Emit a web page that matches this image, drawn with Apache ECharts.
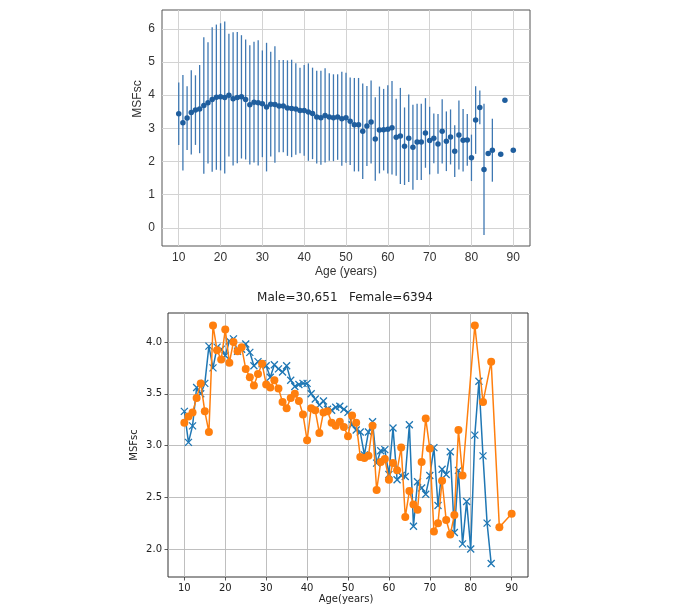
<!DOCTYPE html>
<html><head><meta charset="utf-8">
<script src="https://cdn.jsdelivr.net/npm/echarts@6/dist/echarts.min.js"></script>
<style>html,body{margin:0;padding:0;background:#fff}#c{width:680px;height:615px}</style>
</head><body><div id="c"></div>
<script>
// ---------- Top panel: mean ± SD by age ----------
const topAges = [10,11,12,13,14,15,16,17,18,19,20,21,22,23,24,25,26,27,28,29,30,31,32,33,34,35,36,37,38,39,40,41,42,43,44,45,46,47,48,49,50,51,52,53,54,55,56,57,58,59,60,61,62,63,64,65,66,67,68,69,70,71,72,73,74,75,76,77,78,79,80,81,82,83,84,85,87,88,90];
const topMeans = [3.44,3.17,3.31,3.48,3.55,3.58,3.69,3.77,3.87,3.94,3.95,3.93,4.00,3.89,3.93,3.95,3.87,3.71,3.79,3.77,3.74,3.64,3.73,3.72,3.67,3.67,3.61,3.60,3.58,3.54,3.54,3.49,3.45,3.34,3.32,3.39,3.34,3.32,3.34,3.29,3.32,3.21,3.11,3.11,2.91,3.07,3.19,2.68,2.95,2.96,2.97,3.02,2.73,2.77,2.46,2.70,2.43,2.59,2.59,2.86,2.63,2.70,2.53,2.91,2.61,2.74,2.31,2.80,2.64,2.65,2.11,3.25,3.63,1.76,2.24,2.34,2.22,3.85,2.34];
const topSDs = [0.94,1.44,0.96,1.27,1.05,1.33,2.06,1.83,2.18,2.19,2.22,2.29,1.85,2.01,1.98,1.86,1.81,1.80,1.82,1.89,1.61,1.94,1.58,1.76,1.39,1.39,1.44,1.47,1.38,1.29,1.37,1.47,1.38,1.40,1.42,1.42,1.32,1.31,1.29,1.42,1.36,1.32,1.41,1.41,1.44,1.21,1.25,1.26,1.31,1.23,1.33,1.41,1.16,1.45,1.17,1.32,1.28,1.15,1.15,1.05,1.02,0.75,0.90,0.97,0.90,0.83,0.78,1.04,0.94,0.78,0.70,1.02,0.51,1.98,0,0.95,0,0,0];
const topXTicks = [10,20,30,40,50,60,70,80,90];
const topYTicks = [0,1,2,3,4,5,6];

// ---------- Bottom panel: Male vs Female ----------
const maleAges = [10,11,12,13,14,15,16,17,18,19,20,21,22,23,24,25,26,27,28,29,30,31,32,33,34,35,36,37,38,39,40,41,42,43,44,45,46,47,48,49,50,51,52,53,54,55,56,57,58,59,60,61,62,63,64,65,66,67,68,69,70,71,72,73,74,75,76,77,78,79,80,81,82,83,84,85];
const maleVals = [3.33,3.03,3.19,3.56,3.50,3.60,3.96,3.75,3.95,3.93,3.87,4.01,4.03,3.91,3.93,3.98,3.90,3.77,3.81,3.79,3.77,3.66,3.78,3.74,3.71,3.77,3.63,3.57,3.59,3.60,3.60,3.50,3.45,3.39,3.43,3.35,3.34,3.37,3.38,3.35,3.32,3.20,3.15,3.13,2.91,3.13,3.23,2.83,2.95,2.96,2.72,3.17,2.67,2.71,2.70,3.20,2.22,2.65,2.59,2.53,2.71,2.98,2.42,2.77,2.72,2.94,2.16,2.76,2.05,2.46,2.00,3.10,3.62,2.90,2.25,1.86];
const femaleAges = [10,11,12,13,14,15,16,17,18,19,20,21,22,23,24,25,26,27,28,29,30,31,32,33,34,35,36,37,38,39,40,41,42,43,44,45,46,47,48,49,50,51,52,53,54,55,56,57,58,59,60,61,62,63,64,65,66,67,68,69,70,71,72,73,74,75,76,77,78,81,83,85,87,90];
const femaleVals = [3.22,3.28,3.32,3.46,3.60,3.33,3.13,4.16,3.92,3.83,4.12,3.80,4.00,3.91,3.95,3.74,3.66,3.58,3.69,3.79,3.59,3.56,3.63,3.55,3.42,3.36,3.46,3.50,3.43,3.30,3.05,3.36,3.34,3.12,3.32,3.33,3.22,3.19,3.23,3.18,3.09,3.29,3.22,2.89,2.88,2.90,3.19,2.57,2.84,2.87,2.67,2.83,2.76,2.98,2.31,2.56,2.43,2.38,2.84,3.26,2.97,2.17,2.25,2.66,2.28,2.14,2.33,3.15,2.71,4.16,3.42,3.81,2.21,2.34];
const botXTicks = [10,20,30,40,50,60,70,80,90];
const botYTicks = [2.0,2.5,3.0,3.5,4.0];
const titleText = 'Male=30,651   Female=6394';

const chart = echarts.init(document.getElementById('c'), null, {renderer:'canvas'});
const topFont = 'Liberation Sans, Arial, sans-serif';
const botFont = 'DejaVu Sans, sans-serif';

const option = {
  animation: false,
  backgroundColor: '#fff',
  grid: [
    {left:162, top:10, width:368, height:236, show:true, borderColor:'#555', borderWidth:1, backgroundColor:'transparent'},
    {left:168, top:313, width:360, height:264, show:true, borderColor:'#333', borderWidth:1, backgroundColor:'transparent'}
  ],
  xAxis: [
    {type:'value', gridIndex:0, min:6, max:94,
     axisLine:{show:false},
     axisTick:{show:false, customValues: topXTicks},
     axisLabel:{customValues: topXTicks, fontFamily: topFont, fontSize:12, color:'#333', margin:6},
     splitLine:{show:true, lineStyle:{color:'#d3d3d3', width:1}}},
    {type:'value', gridIndex:1, min:6, max:94,
     axisLine:{show:false},
     axisTick:{show:true, inside:false, length:3.5, customValues: botXTicks, lineStyle:{color:'#333', width:0.8}},
     axisLabel:{customValues: botXTicks, fontFamily: botFont, fontSize:10, color:'#222', margin:6},
     splitLine:{show:true, lineStyle:{color:'#b8b8b8', width:0.9}}}
  ],
  yAxis: [
    {type:'value', gridIndex:0, min:-0.55, max:6.57,
     axisLine:{show:false},
     axisTick:{show:false, customValues: topYTicks},
     axisLabel:{customValues: topYTicks, fontFamily: topFont, fontSize:12, color:'#333', margin:7},
     splitLine:{show:true, lineStyle:{color:'#d3d3d3', width:1}}},
    {type:'value', gridIndex:1, min:1.73, max:4.28,
     axisLine:{show:false},
     axisTick:{show:true, inside:false, length:3.5, customValues: botYTicks, lineStyle:{color:'#333', width:0.8}},
     axisLabel:{customValues: botYTicks, fontFamily: botFont, fontSize:10, color:'#222', margin:6,
                formatter: v => Number(v).toFixed(1)},
     splitLine:{show:true, lineStyle:{color:'#b8b8b8', width:0.9}}}
  ],
  graphic: [
    {type:'text', x:138, y:99, rotation:Math.PI/2,
     style:{text:'MSFsc', font:'12px '+topFont, fill:'#333', textAlign:'center', textVerticalAlign:'middle'}},
    {type:'text', x:346, y:272,
     style:{text:'Age (years)', font:'12px '+topFont, fill:'#333', textAlign:'center', textVerticalAlign:'middle'}},
    {type:'text', x:345, y:298,
     style:{text:titleText, font:'12px '+botFont, fill:'#222', textAlign:'center', textVerticalAlign:'middle'}},
    {type:'text', x:134, y:445, rotation:Math.PI/2,
     style:{text:'MSFsc', font:'10px '+botFont, fill:'#222', textAlign:'center', textVerticalAlign:'middle'}},
    {type:'text', x:346, y:599,
     style:{text:'Age(years)', font:'10px '+botFont, fill:'#222', textAlign:'center', textVerticalAlign:'middle'}}
  ],
  series: [
    {type:'custom', xAxisIndex:0, yAxisIndex:0, z:2,
     data: topAges.map((a,i) => [a, topMeans[i]-topSDs[i], topMeans[i]+topSDs[i]]),
     encode:{x:0, y:[1,2]},
     renderItem: (params, api) => {
       const lo = api.coord([api.value(0), api.value(1)]);
       const hi = api.coord([api.value(0), api.value(2)]);
       return {type:'line', shape:{x1:lo[0], y1:lo[1], x2:hi[0], y2:hi[1]},
               style:{stroke:'#3f78b2', lineWidth:1.3}};
     }},
    {type:'scatter', xAxisIndex:0, yAxisIndex:0, z:3,
     data: topAges.map((a,i) => [a, topMeans[i]]),
     symbol:'circle', symbolSize:5.5,
     itemStyle:{color:'#1f5e9e', opacity:1}},
    {type:'line', xAxisIndex:1, yAxisIndex:1, z:3,
     data: maleAges.map((a,i) => [a, maleVals[i]]),
     showAllSymbol:true,
     symbol:'path://M0,0L10,10M10,0L0,10', symbolSize:7,
     lineStyle:{color:'#1f77b4', width:1.5},
     itemStyle:{color:'#1f77b4', borderColor:'#1f77b4', borderWidth:1.3}},
    {type:'line', xAxisIndex:1, yAxisIndex:1, z:4,
     data: femaleAges.map((a,i) => [a, femaleVals[i]]),
     showAllSymbol:true,
     symbol:'circle', symbolSize:8,
     lineStyle:{color:'#ff7f0e', width:1.5},
     itemStyle:{color:'#ff7f0e', borderWidth:0}}
  ]
};
chart.setOption(option);
</script>
</body></html>
